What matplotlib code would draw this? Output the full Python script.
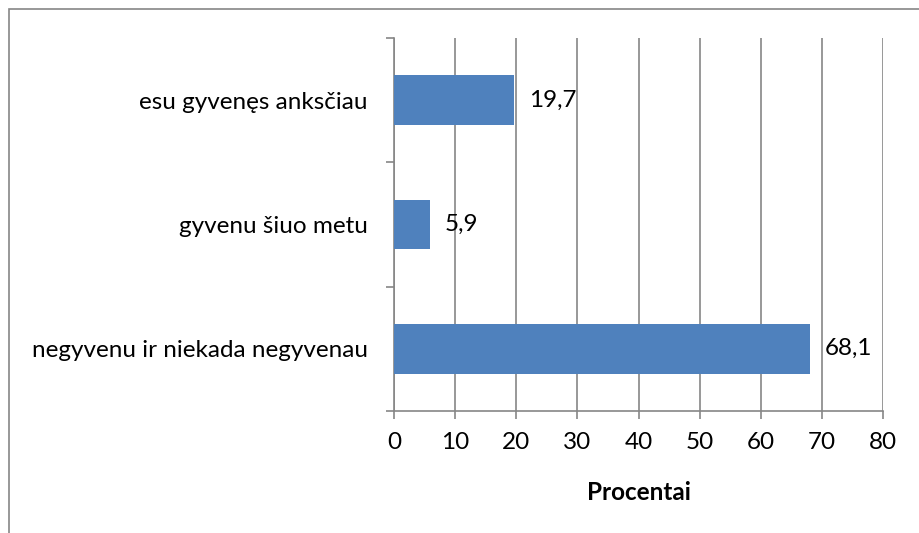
import numpy as np
import matplotlib.pyplot as plt
from matplotlib.patches import Rectangle

# data (bottom to top, as drawn)
categories = ["negyvenu ir niekada negyvenau", "gyvenu šiuo metu", "esu gyvenęs anksčiau"]
values = [68.1, 5.9, 19.7]
xticks = [0, 10, 20, 30, 40, 50, 60, 70, 80]

plt.rcParams['font.family'] = ['Lato', 'DejaVu Sans']
grey = '#868686'
fs = 17.5

fig = plt.figure(figsize=(9.2, 5.33), dpi=100)
ax = fig.add_axes([0.4283, 0.2289, 0.5315, 0.6998])

# chart-area border (only top and left edge fall inside the picture)
fig.patches.append(Rectangle((9 / 920, -0.1), 2.0, 1 - 9 / 533 + 0.1,
                             transform=fig.transFigure, fill=False,
                             edgecolor=grey, linewidth=1.2))

yy = np.arange(len(categories))
ax.barh(yy, values, height=0.4, color='#4F81BD', zorder=3)
for y, v in zip(yy, values):
    ax.text(v + 2.4, y, "{:.1f}".format(v).replace('.', ','), va='center',
            ha='left', fontsize=fs)

ax.set_xlim(0, 80)
ax.set_ylim(-0.5, len(categories) - 0.5)
ax.set_xticks(xticks)
ax.set_xticklabels([str(t) for t in xticks], fontsize=fs)
ax.set_yticks(yy)
ax.set_yticklabels(categories, fontsize=fs)
ax.set_yticks(np.arange(-0.5, len(categories), 1.0), minor=True)
ax.tick_params(axis='y', which='major', length=0, pad=19)
ax.tick_params(axis='y', which='minor', length=6, color=grey, width=1.2)
ax.tick_params(axis='x', length=6, color=grey, width=1.2, pad=9)
ax.grid(axis='x', color=grey, linewidth=1.2, zorder=0)
for s in ['top', 'right']:
    ax.spines[s].set_visible(False)
for s in ['left', 'bottom']:
    ax.spines[s].set_color(grey)
    ax.spines[s].set_linewidth(1.2)
ax.set_xlabel("Procentai", fontsize=fs, fontweight='bold', labelpad=20)

fig.savefig("out.png", dpi=100)
